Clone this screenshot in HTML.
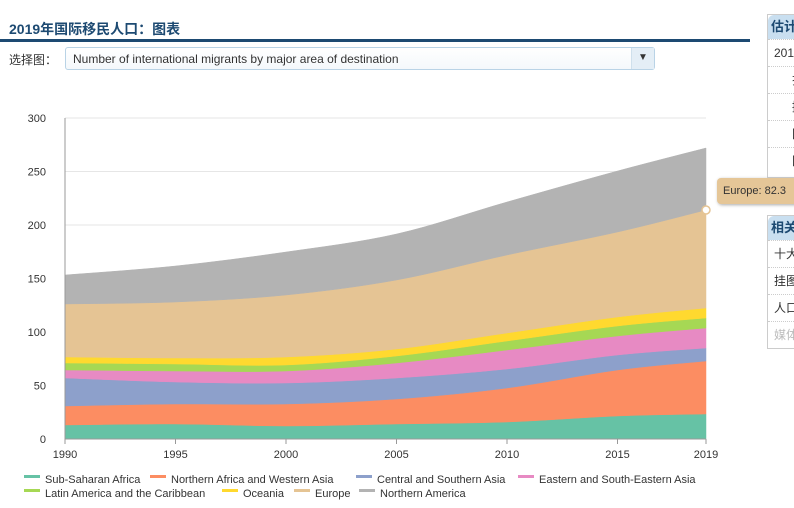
<!DOCTYPE html>
<html><head><meta charset="utf-8"><style>
body{margin:0;width:794px;height:508px;overflow:hidden;background:#fff;font-family:"Liberation Sans","Noto Sans CJK SC",sans-serif;position:relative}
.t{position:absolute;left:9px;top:19px;font-size:14px;font-weight:bold;color:#1d4a72}
.bar{position:absolute;left:0;top:39px;width:750px;height:3px;background:#1d4a72}
.sel{position:absolute;left:9px;top:51px;font-size:12px;color:#333}
.box{position:absolute;left:65px;top:47px;width:590px;height:23px;border:1px solid #b9d3e6;border-radius:3px;font-size:12px;color:#333;line-height:23px;padding-left:7px;box-sizing:border-box;background:linear-gradient(#fff,#f4f8fb)}
.arr{position:absolute;right:0;top:0;width:22px;height:21px;border-left:1px solid #cfe0ec;background:#e4eef6;font-size:10px;text-align:center;line-height:20px;color:#333}
.side{position:absolute;left:767px;border:1px solid #ccc;border-right:none;width:30px;font-size:12px;color:#333}
.sh{background:#c9dff0;color:#1d4a72;font-weight:bold;font-size:13px;height:24px;line-height:24px;padding-left:3px;border-radius:6px 0 0 0}
.sr{height:26px;line-height:26px;border-top:1px dotted #ccc;padding-left:6px}
.tip{position:absolute;left:717px;top:178px;width:90px;height:26px;background:#e5c697;border-radius:4px;font-size:11px;line-height:26px;padding-left:6px;color:#333;box-shadow:1px 1px 3px #aaa}
</style></head><body>
<div class="t">2019年国际移民人口：图表</div><div class="bar"></div>
<div class="sel">选择图：</div>
<div class="box">Number of international migrants by major area of destination<div class="arr">▼</div></div>
<div class="side" style="top:14px;height:162px"><div class="sh">估计</div><div class="sr">2019</div><div class="sr" style="padding-left:24px">拉</div><div class="sr" style="padding-left:24px">撒</div><div class="sr" style="padding-left:24px">国</div><div class="sr" style="padding-left:24px">国</div></div>
<div class="side" style="top:215px;height:132px"><div class="sh">相关</div><div class="sr">十大</div><div class="sr">挂图</div><div class="sr">人口</div><div class="sr" style="color:#bbb">媒体</div></div>
<svg id="s" width="794" height="508" style="position:absolute;left:0;top:0" font-family="Liberation Sans,sans-serif" font-size="11" fill="#333"></svg>
<div class="tip">Europe: 82.3</div>
<script>
var s=document.getElementById('s'),h='';
var X=[65,175.5,286,396.5,507,617.5,706];
var B=[[439,439,439,439,439,439,439],[425,424,426,424,422,416,414],[406,404,404,399,388,370,361],[378,382,383,378,369,355,348],[370,371,371,363,350,336,328],[363,364,365,356,341,326,318],[357,358,357,349,333,317,308],[304,302,295,280,255,232,210],[275,266,252,234,202,171,148]];
var C=['#66c2a5','#fc8d62','#8da0cb','#e78ac3','#a6d854','#ffd92f','#e5c494','#b3b3b3'];
[0,50,100,150,200,250,300].forEach(function(v){var y=439-v*1.07;h+='<line x1="65" x2="706" y1="'+y+'" y2="'+y+'" stroke="#e6e6e6"/><text x="46" y="'+(y+4)+'" text-anchor="end">'+v+'</text>';});
function cr(p,rev){var pts=p.slice();if(rev)pts.reverse();var d='';for(var i=0;i<pts.length-1;i++){var p0=pts[i-1]||pts[i],p1=pts[i],p2=pts[i+1],p3=pts[i+2]||p2;d+=' C'+(p1[0]+(p2[0]-p0[0])/6)+','+(p1[1]+(p2[1]-p0[1])/6)+' '+(p2[0]-(p3[0]-p1[0])/6)+','+(p2[1]-(p3[1]-p1[1])/6)+' '+p2[0]+','+p2[1];}return d;}
for(var k=0;k<8;k++){var lo=X.map(function(x,i){return[x,B[k][i]]}),hi=X.map(function(x,i){return[x,B[k+1][i]]});
var d='M'+hi[0][0]+','+hi[0][1]+cr(hi)+' L'+lo[6][0]+','+lo[6][1]+cr(lo,true)+'Z';h+='<path d="'+d+'" fill="'+C[k]+'" stroke="'+C[k]+'" stroke-width="0.5"/>';}
h+='<line x1="65" x2="65" y1="118" y2="439" stroke="#999"/><line x1="65" x2="706" y1="439" y2="439" stroke="#999"/>';
[1990,1995,2000,2005,2010,2015,2019].forEach(function(v,i){h+='<line x1="'+X[i]+'" x2="'+X[i]+'" y1="439" y2="444" stroke="#999"/><text x="'+X[i]+'" y="458" text-anchor="middle">'+v+'</text>';});
h+='<circle cx="706" cy="210" r="4" fill="#fff" stroke="#e5c494" stroke-width="1.5"/>';
var L=[['Sub-Saharan Africa',24,479],['Northern Africa and Western Asia',150,479],['Central and Southern Asia',356,479],['Eastern and South-Eastern Asia',518,479],['Latin America and the Caribbean',24,493],['Oceania',222,493],['Europe',294,493],['Northern America',359,493]];
L.forEach(function(l,i){h+='<rect x="'+l[1]+'" y="'+(l[2]-4)+'" width="16" height="3" fill="'+C[i]+'"/><text x="'+(l[1]+21)+'" y="'+(l[2]+4)+'">'+l[0]+'</text>';});
s.innerHTML=h;
</script>
</body></html>
